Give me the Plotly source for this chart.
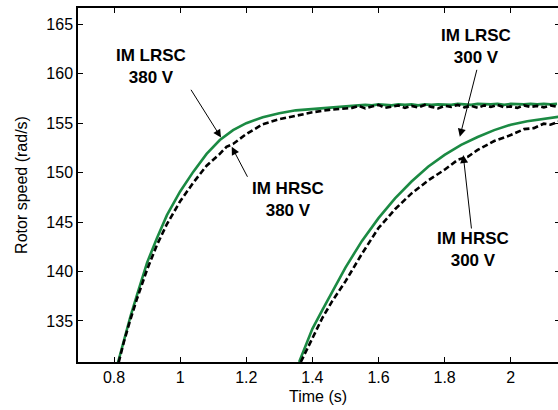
import plotly.graph_objects as go

# ---- data ----
t_lrsc380 = [0.812, 0.83, 0.85, 0.87, 0.90, 0.93, 0.96, 1.00, 1.04, 1.08, 1.12, 1.16, 1.20, 1.25,
             1.30, 1.35, 1.40, 1.45, 1.50,
             1.52, 1.54, 1.56, 1.58, 1.60, 1.62, 1.64, 1.66, 1.68, 1.70, 1.72, 1.74, 1.76, 1.78,
             1.80, 1.82, 1.84, 1.86, 1.88, 1.90, 1.92, 1.94, 1.96, 1.98, 2.00, 2.02, 2.04, 2.06,
             2.08, 2.10, 2.12, 2.14]
v_lrsc380 = [130.8, 133.1, 135.5, 137.7, 140.9, 143.4, 145.7, 148.1, 150.1, 151.9, 153.3, 154.3, 155.0, 155.6,
             156.0, 156.3, 156.45, 156.6, 156.7,
             156.75, 156.8, 156.85, 156.8, 156.9, 156.85, 156.8, 156.9, 156.85, 156.9, 156.8, 156.9,
             156.85, 156.9, 156.9, 156.85, 156.95, 156.9, 156.85, 156.95, 156.9, 156.9, 156.95, 156.85,
             156.95, 156.9, 156.9, 156.95, 156.9, 156.95, 156.9, 156.95]

t_hrsc380 = [0.814, 0.83, 0.85, 0.87, 0.90, 0.93, 0.96, 1.00, 1.04, 1.08, 1.12, 1.14, 1.16, 1.20, 1.25,
             1.30, 1.35, 1.40, 1.45, 1.50,
             1.52, 1.54, 1.56, 1.58, 1.60, 1.62, 1.64, 1.66, 1.68, 1.70, 1.72, 1.74, 1.76, 1.78,
             1.80, 1.82, 1.84, 1.86, 1.88, 1.90, 1.92, 1.94, 1.96, 1.98, 2.00, 2.02, 2.04, 2.06,
             2.08, 2.10, 2.12, 2.14]
v_hrsc380 = [130.8, 132.9, 135.2, 137.3, 140.2, 142.7, 144.8, 147.1, 149.0, 150.7, 151.9, 152.6, 152.9, 153.9, 154.9,
             155.4, 155.75, 156.1, 156.35, 156.5,
             156.55, 156.75, 156.5, 156.7, 156.85, 156.55, 156.65, 156.8, 156.55, 156.75, 156.6, 156.85,
             156.65, 156.5, 156.75, 156.65, 156.85, 156.6, 156.75, 156.55, 156.8, 156.65, 156.85, 156.6,
             156.7, 156.55, 156.8, 156.65, 156.75, 156.6, 156.8, 156.65]

t_lrsc300 = [1.360, 1.38, 1.40, 1.43, 1.46, 1.50, 1.55, 1.60, 1.65, 1.70, 1.75, 1.80, 1.85, 1.90,
             1.95, 2.00, 2.05, 2.10, 2.145]
v_lrsc300 = [130.85, 132.6, 134.2, 136.1, 138.0, 140.4, 143.1, 145.4, 147.4, 149.1, 150.6, 151.8, 152.8, 153.6,
             154.3, 154.85, 155.2, 155.45, 155.65]

t_hrsc300 = [1.365, 1.38, 1.40, 1.43, 1.46, 1.50, 1.55, 1.60, 1.65, 1.70, 1.75, 1.80, 1.84, 1.87, 1.90,
             1.95, 2.00, 2.04, 2.07, 2.10, 2.12, 2.145]
v_hrsc300 = [130.85, 131.9, 133.3, 135.3, 137.0, 139.0, 141.8, 144.4, 146.3, 147.9, 149.2, 150.3, 151.3, 151.6, 152.3,
             153.2, 153.8, 154.4, 154.5, 154.95, 154.85, 155.15]

x_ticks = [0.8, 1.0, 1.2, 1.4, 1.6, 1.8, 2.0]
y_ticks = [135, 140, 145, 150, 155, 160, 165]

labels = [
    # text, x, y
    ("IM LRSC<br>380 V", 0.913, 160.78),
    ("IM HRSC<br>380 V", 1.327, 147.26),
    ("IM LRSC<br>300 V", 1.894, 162.79),
    ("IM HRSC<br>300 V", 1.885, 142.26),
]
arrows = [
    # head x, head y, tail x, tail y
    (1.1236, 153.55, 1.030, 158.53),
    (1.156, 152.62, 1.206, 149.43),
    (1.846, 153.63, 1.8986, 160.55),
    (1.8563, 151.78, 1.8817, 144.2),
]

GREEN = "#1b8a43"
FONT = "Liberation Sans, Arial, sans-serif"

fig = go.Figure()
for t, v in [(t_lrsc380, v_lrsc380), (t_lrsc300, v_lrsc300)]:
    fig.add_trace(go.Scatter(x=t, y=v, mode="lines", line=dict(color=GREEN, width=2.6),
                             showlegend=False, hoverinfo="skip"))
for t, v in [(t_hrsc380, v_hrsc380), (t_hrsc300, v_hrsc300)]:
    fig.add_trace(go.Scatter(x=t, y=v, mode="lines",
                             line=dict(color="black", width=2.6, dash="6px,3px"),
                             showlegend=False, hoverinfo="skip"))
fig.add_trace(go.Scatter(x=[None], y=[None], yaxis="y2", showlegend=False, hoverinfo="skip"))

ann = []
for txt, x, y in labels:
    ann.append(dict(text="<b>" + txt + "</b>", x=x, y=y, xref="x", yref="y", showarrow=False,
                    font=dict(family=FONT, size=17, color="black"), align="center"))
for hx, hy, tx, ty in arrows:
    ann.append(dict(text="", x=hx, y=hy, ax=tx, ay=ty, xref="x", yref="y", axref="x", ayref="y",
                    showarrow=True, arrowhead=2, arrowsize=1.6, arrowwidth=1, arrowcolor="black",
                    standoff=0, startstandoff=0))

xr = [0.691, 2.143]
yr = [130.85, 166.65]
fig.update_layout(
    width=558, height=410,
    margin=dict(l=78, r=0, t=8, b=48),
    paper_bgcolor="white", plot_bgcolor="white",
    font=dict(family=FONT, size=16, color="black"),
    annotations=ann,
    xaxis=dict(range=xr, tickvals=x_ticks, ticks="inside", ticklen=5, tickwidth=1, tickcolor="black",
               showline=True, linecolor="black", linewidth=1.5, mirror="ticks", showgrid=False, zeroline=False,
               title=dict(text="Time (s)", font=dict(size=16), standoff=6),
               tickfont=dict(size=16)),
    yaxis=dict(range=yr, tickvals=y_ticks, ticks="inside", ticklen=5, tickwidth=1, tickcolor="black",
               showline=True, linecolor="black", linewidth=1.5, showgrid=False, zeroline=False,
               title=dict(text="Rotor speed (rad/s)", font=dict(size=16), standoff=15),
               tickfont=dict(size=16)),
    yaxis2=dict(range=yr, tickvals=y_ticks, overlaying="y", side="right", anchor="x",
                ticks="inside", ticklen=3, tickwidth=1, tickcolor="black", showticklabels=False,
                showline=False, showgrid=False, zeroline=False),
)
fig.write_html("out.html", config={"displayModeBar": False},
               post_script="document.body.style.margin='0';document.body.style.overflow='hidden';")
